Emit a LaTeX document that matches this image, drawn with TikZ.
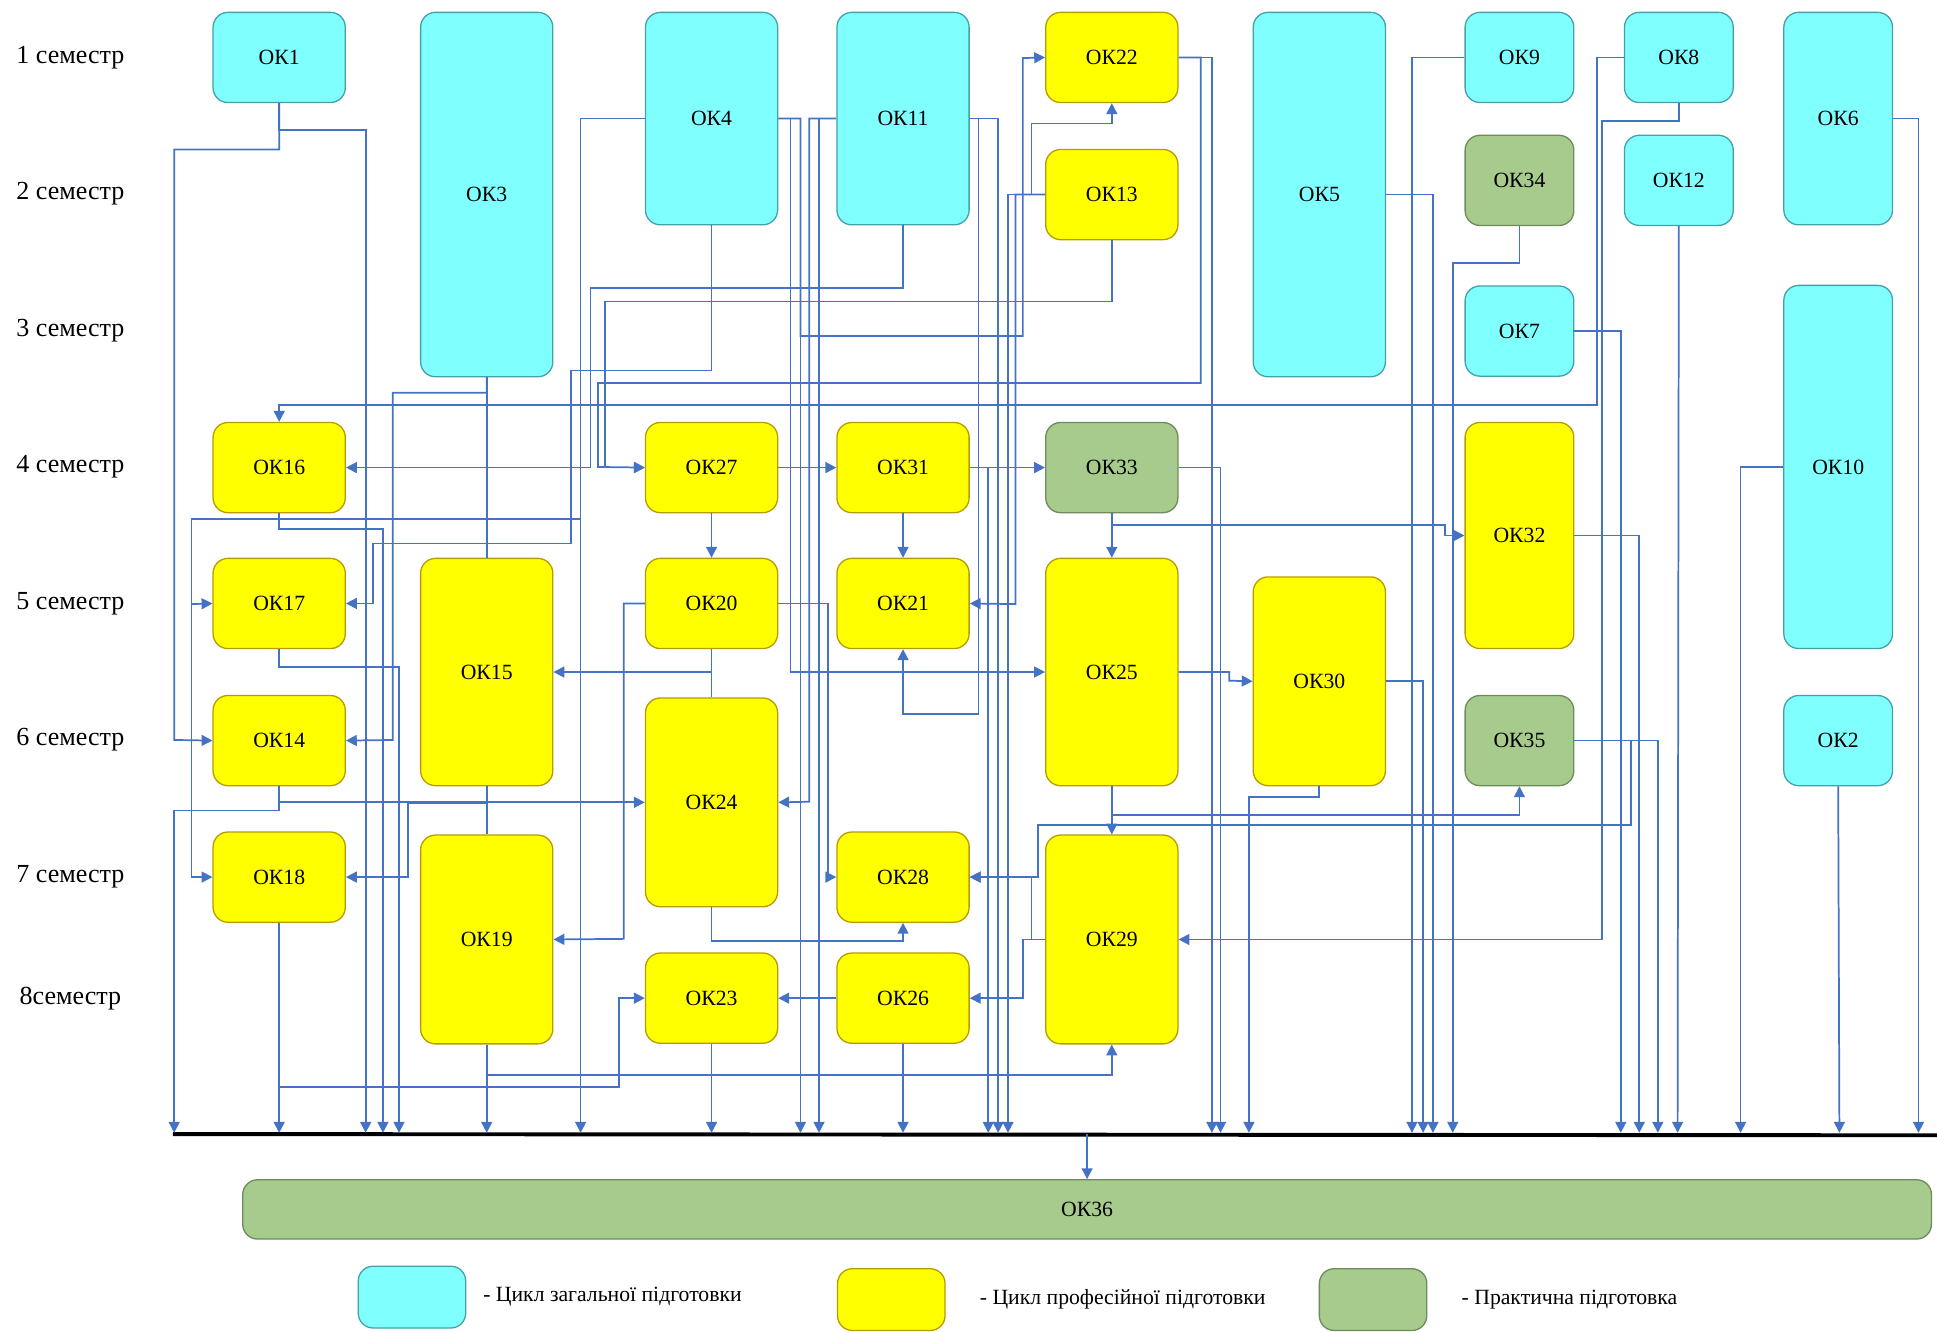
\documentclass[tikz,border=0pt]{standalone}
\usepackage{fontspec}
\setmainfont{Liberation Serif}
\usetikzlibrary{arrows.meta}

\definecolor{genfill}{HTML}{80FFFF}
\definecolor{genline}{HTML}{45A0A8}
\definecolor{proffill}{HTML}{FFFF00}
\definecolor{profline}{HTML}{B89B00}
\definecolor{pracfill}{HTML}{A6CB8C}
\definecolor{pracline}{HTML}{6F8A5C}
\definecolor{linkblue}{HTML}{4472C4}

\begin{document}
\begin{tikzpicture}[x=0.2mm,y=-0.2mm,
    box/.style={rounded corners=2.4mm,minimum width=21.4mm,minimum height=14.6mm,
      inner sep=0pt,line width=0.6pt,font=\fontsize{10}{12}\selectfont},
    gen/.style={box,fill=genfill,draw=genline},
    prof/.style={box,fill=proffill,draw=profline},
    prac/.style={box,fill=pracfill,draw=pracline},
    slim/.style={minimum width=17.6mm},
    link/.style={draw=linkblue,line width=0.8pt},
    arr/.style={link,-{Triangle[length=5pt,width=5pt]}},
    sem/.style={font=\fontsize{12}{14}\selectfont},
    legtext/.style={anchor=west,font=\fontsize{10}{12}\selectfont}] %Структурно-логічна схема
    \useasboundingbox (0,0) rectangle (1568,1078);

    \node[sem] (s1) at (57,47) {1 семестр};
    \node[sem] (s2) at (57,157) {2 семестр};
    \node[sem] (s3) at (57,268) {3 семестр};
    \node[sem] (s4) at (57,378) {4 семестр};
    \node[sem] (s5) at (57,489) {5 семестр};
    \node[sem] (s6) at (57,599) {6 семестр};
    \node[sem] (s7) at (57,710) {7 семестр};
    \node[sem] (s8) at (57,808) {8семестр};

    \node[gen] (ok1) at (226,46.5) {ОК1};
    \node[prof] (ok16) at (226,378.5) {ОК16};
    \node[prof] (ok17) at (226,488.5) {ОК17};
    \node[prof] (ok14) at (226,599.5) {ОК14};
    \node[prof] (ok18) at (226,710) {ОК18};

    \node[gen,minimum height=59mm] (ok3) at (394,157.5) {ОК3};
    \node[prof,minimum height=36.8mm] (ok15) at (394,544) {ОК15};
    \node[prof,minimum height=33.8mm] (ok19) at (394,760.5) {ОК19};

    \node[gen,minimum height=34.4mm] (ok4) at (576,96) {ОК4};
    \node[prof] (ok27) at (576,378.5) {ОК27};
    \node[prof] (ok20) at (576,488.5) {ОК20};
    \node[prof,minimum height=33.8mm] (ok24) at (576,649.5) {ОК24};
    \node[prof] (ok23) at (576,808) {ОК23};

    \node[gen,minimum height=34.4mm] (ok11) at (731,96) {ОК11};
    \node[prof] (ok31) at (731,378.5) {ОК31};
    \node[prof] (ok21) at (731,488.5) {ОК21};
    \node[prof] (ok28) at (731,710) {ОК28};
    \node[prof] (ok26) at (731,808) {ОК26};

    \node[prof] (ok22) at (900,46.5) {ОК22};
    \node[prof] (ok13) at (900,157.5) {ОК13};
    \node[prac] (ok33) at (900,378.5) {ОК33};
    \node[prof,minimum height=36.8mm] (ok25) at (900,544) {ОК25};
    \node[prof,minimum height=33.8mm] (ok29) at (900,760.5) {ОК29};

    \node[gen,minimum height=59mm] (ok5) at (1068,157.5) {ОК5};
    \node[prof,minimum height=33.8mm] (ok30) at (1068,551.5) {ОК30};

    \node[gen,slim] (ok9) at (1230,46.5) {ОК9};
    \node[prac,slim] (ok34) at (1230,146) {ОК34};
    \node[gen,slim] (ok7) at (1230,268) {ОК7};
    \node[prof,slim,minimum height=36.6mm] (ok32) at (1230,433.5) {ОК32};
    \node[prac,slim] (ok35) at (1230,599.5) {ОК35};

    \node[gen,slim] (ok8) at (1359,46.5) {ОК8};
    \node[gen,slim] (ok12) at (1359,146) {ОК12};

    \node[gen,slim,minimum height=34.4mm] (ok6) at (1488,96) {ОК6};
    \node[gen,slim,minimum height=58.8mm] (ok10) at (1488,378) {ОК10};
    \node[gen,slim] (ok2) at (1488,599.5) {ОК2};

    \node[prac,minimum width=273.4mm,minimum height=9.6mm] (ok36) at (880,979) {ОК36};

    % шина
    \coordinate (busl) at (140,918);
    \coordinate (busr) at (1568,919);
    \coordinate (busm) at (880,918);
    \draw[line width=1.8pt] (busl) -- (busr);
    \foreach \x in {141,226,296,310,323,394,470,576,648,663,731,800,808,816,981,988,1011,
        1143,1152,1160,1176,1312,1327,1342,1358,1409,1489,1553}
        \coordinate (b\x) at (\x,917);
    \coordinate (j17) at (155,489);

    \draw[arr] (busm) -- (ok36.north);
    \draw[arr] (ok1.south) |- (296,105) -- (b296);
    \draw[arr] (ok1.south) -- (226,121) -| (141,599) -- (ok14.west);
    \draw[arr] (ok14.south) |- (141,656) -- (b141);
    \draw[arr] (ok18.south) -- (b226);
    \draw[arr] (ok16.south) |- (310,428) -- (b310);
    \draw[arr] (ok17.south) |- (323,540) -- (b323);
    \draw[link] (ok3.south) -- (ok15.north);
    \draw[link] (ok15.south) -- (ok19.north);
    \draw[arr] (ok19.south) -- (b394);
    \draw[arr] (ok4.west) -| (b470);
    \draw[arr] (ok23.south) -- (b576);
    \draw[arr] (ok4.east) -| (b648);
    \draw[arr] (ok11.west) -| (b663);
    \draw[arr] (ok26.south) -- (b731);
    \draw[arr] (ok31.east) -| (b800);
    \draw[arr] (ok11.east) -| (b808);
    \draw[arr] (ok13.west) -| (b816);
    \draw[arr] (ok22.east) -| (b981);
    \draw[arr] (ok33.east) -| (b988);
    \draw[arr] (ok30.south) |- (1011,645) -- (b1011);
    \draw[arr] (ok9.west) -| (b1143);
    \draw[arr] (ok30.east) -| (b1152);
    \draw[arr] (ok5.east) -| (b1160);
    \draw[arr] (ok34.south) |- (1176,213) -- (b1176);
    \draw[arr] (ok7.east) -| (b1312);
    \draw[arr] (ok32.east) -| (b1327);
    \draw[arr] (ok35.east) -| (b1342);
    \draw[arr] (ok12.south) -- (b1358);
    \draw[arr] (ok10.west) -| (b1409);
    \draw[arr] (ok2.south) -- (b1489);
    \draw[arr] (ok6.east) -| (b1553);

    \draw[arr] (ok8.west) -| (1293,328) -| (ok16.north);
    \draw[arr] (ok8.south) |- (1297,98) |- (ok29.east);
    \draw[arr] (ok4.west) -| (470,420) -| (155,710) -- (ok18.west);
    \draw[arr] (j17) -- (ok17.west);
    \draw[arr] (ok11.south) |- (478,233) |- (ok16.east);
    \draw[arr] (ok4.south) |- (462,300) |- (302,440) |- (ok17.east);
    \draw[arr] (ok3.south) |- (318,318) -- (318,599) -- (ok14.east);
    \draw[arr] (ok15.south) |- (330,650) |- (ok18.east);
    \draw[arr] (ok14.south) |- (ok24.west);
    \draw[arr] (ok13.south) |- (490,244) |- (ok27.west);
    \draw[arr] (ok22.east) -| (972,310) -| (484,378) -- (ok27.west);
    \draw[arr] (ok27.east) -- (ok31.west);
    \draw[arr] (ok31.east) -- (ok33.west);
    \draw[arr] (ok4.east) -| (648,272) -| (828,47) -- (ok22.west);
    \draw[arr] (ok13.west) -| (835,100) -| (ok22.south);
    \draw[arr] (ok27.south) -- (ok20.north);
    \draw[arr] (ok31.south) -- (ok21.north);
    \draw[arr] (ok33.south) -- (ok25.north);
    \draw[arr] (ok33.south) |- (1170,425) |- (ok32.west);
    \draw[arr] (ok13.west) -| (822,489) -- (ok21.east);
    \draw[arr] (ok11.east) -| (792,578) -| (ok21.south);
    \draw[arr] (ok20.south) |- (ok15.east);
    \draw[link] (ok20.south) -- (ok24.north);
    \draw[arr] (ok4.east) -| (640,544) -- (ok25.west);
    \draw[arr] (ok25.east) -| (995,551) -- (ok30.west);
    \draw[arr] (ok25.south) -- (ok29.north);
    \draw[arr] (ok25.south) -- (900,660) -| (ok35.south);
    \draw[arr] (ok11.west) -| (655,649) -- (ok24.east);
    \draw[arr] (ok20.east) -| (670,710) -- (ok28.west);
    \draw[arr] (ok29.west) -| (835,710) -- (ok28.east);
    \draw[arr] (ok35.east) -| (1320,668) -| (840,710) -- (ok28.east);
    \draw[arr] (ok29.west) -| (828,808) -- (ok26.east);
    \draw[arr] (ok24.south) |- (731,762) -- (ok28.south);
    \draw[arr] (ok20.west) -| (505,760) -- (ok19.east);
    \draw[arr] (ok18.south) |- (501,880) |- (ok23.west);
    \draw[arr] (ok26.west) -- (ok23.east);
    \draw[arr] (ok19.south) |- (900,870) -- (ok29.south);

    \node[gen,minimum width=17.4mm,minimum height=10mm] (lg1) at (333.5,1050) {};
    \node[legtext] (lt1) at (385,1050) {- Цикл загальної підготовки};
    \node[prof,minimum width=17.4mm,minimum height=10mm] (lg2) at (721.5,1052) {};
    \node[legtext] (lt2) at (787,1052) {- Цикл професійної підготовки};
    \node[prac,minimum width=17.4mm,minimum height=10mm] (lg3) at (1111.5,1052) {};
    \node[legtext] (lt3) at (1177,1052) {- Практична підготовка};
\end{tikzpicture}
\end{document}
